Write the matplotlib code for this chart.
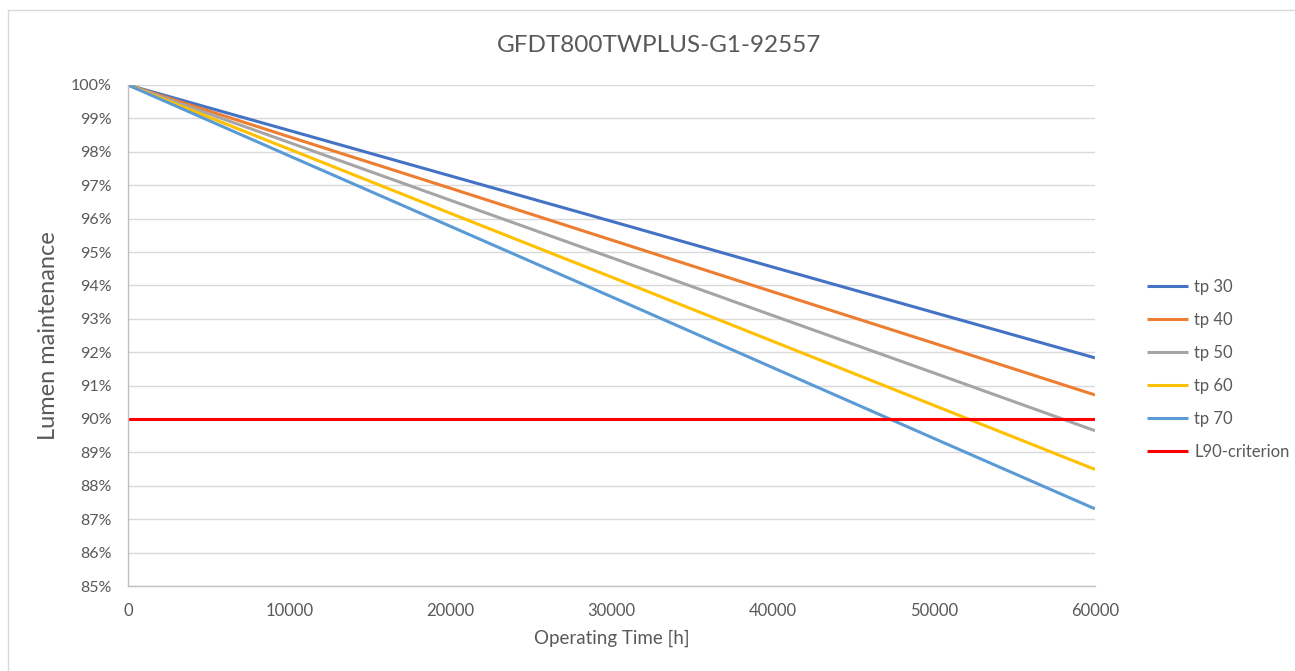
import matplotlib
matplotlib.use("Agg")
import matplotlib.pyplot as plt
from matplotlib.patches import Rectangle
from matplotlib.ticker import FuncFormatter

plt.rcParams['font.family'] = ['Lato', 'DejaVu Sans']

hours = [0, 10000, 20000, 30000, 40000, 50000, 60000]
tp30 = [100.0, 98.64, 97.28, 95.92, 94.55, 93.19, 91.83]
tp40 = [100.0, 98.45, 96.91, 95.36, 93.81, 92.27, 90.72]
tp50 = [100.0, 98.28, 96.55, 94.83, 93.10, 91.38, 89.65]
tp60 = [100.0, 98.08, 96.16, 94.25, 92.33, 90.41, 88.49]
tp70 = [100.0, 97.88, 95.77, 93.66, 91.54, 89.42, 87.31]
l90 = [90.0, 90.0, 90.0, 90.0, 90.0, 90.0, 90.0]
labels = ['tp 30', 'tp 40', 'tp 50', 'tp 60', 'tp 70', 'L90-criterion']
colors = ['#4472C4', '#ED7D31', '#A5A5A5', '#FFC000', '#5B9BD5', '#FF0000']
title = 'GFDT800TWPLUS-G1-92557'

fig = plt.figure(figsize=(12.95, 6.71), dpi=100)
fig.patches.append(Rectangle((8/1295, -0.1), 1.1, 1.1 - 10/671, transform=fig.transFigure,
                             fill=False, edgecolor='#D9D9D9', linewidth=1.0))
ax = fig.add_axes([128/1295, 1 - 586/671, (1095 - 128)/1295, (586 - 85)/671])

for series, lab, col in zip([tp30, tp40, tp50, tp60, tp70, l90], labels, colors):
    ax.plot(hours, series, color=col, linewidth=2.2, label=lab, solid_capstyle='butt')

ax.set_xlim(0, 60000)
ax.set_ylim(85, 100)
ax.set_yticks(range(85, 101))
ax.set_xticks(range(0, 60001, 10000))
ax.yaxis.set_major_formatter(FuncFormatter(lambda v, p: f"{int(round(v))}%"))
ax.grid(axis='y', color='#D9D9D9', linewidth=1.0)
ax.set_axisbelow(True)
for s in ['top', 'right']:
    ax.spines[s].set_visible(False)
for s in ['left', 'bottom']:
    ax.spines[s].set_color('#BFBFBF')
    ax.spines[s].set_linewidth(1.0)
ax.tick_params(length=0, labelcolor='#595959')
ax.tick_params(axis='y', labelsize=11.5, pad=12)
ax.tick_params(axis='x', labelsize=12, pad=12)

ax.set_xlabel('Operating Time [h]', fontsize=13.5, color='#595959', labelpad=8)
ax.set_ylabel('Lumen maintenance', fontsize=17, color='#595959', labelpad=8)

fig.text(659/1295, 1 - 46/671, title, ha='center', va='center', fontsize=17.5, color='#595959')

leg = fig.legend(loc='upper left', bbox_to_anchor=(1140/1295, 1 - 272/671), frameon=False,
                 fontsize=12, handlelength=2.5, handletextpad=0.35, labelspacing=1.02,
                 borderaxespad=0)
for t in leg.get_texts():
    t.set_color('#595959')

fig.savefig('out.png', dpi=100, facecolor='white')
